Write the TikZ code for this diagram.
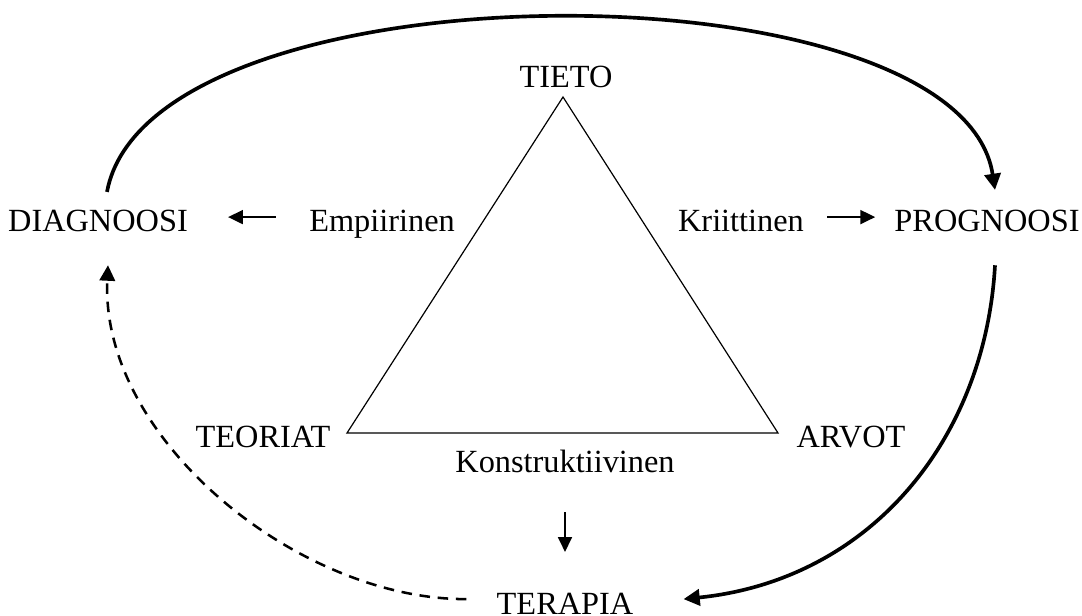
\documentclass[tikz,border=0pt]{standalone}
\usepackage{fontspec}
\setmainfont{Liberation Serif}
\usetikzlibrary{arrows.meta,calc}

\begin{document}
\begin{tikzpicture}[x=0.025cm, y=-0.025cm,
    term/.style={inner sep=0pt, anchor=base, text height=21.2pt, text depth=0pt,
        font=\fontsize{23}{27}\selectfont},
    pointer/.style={line width=1pt, -{Triangle[length=10.5pt,width=10pt]}},
    flow/.style={line width=2.6pt, -{Triangle[length=11.5pt,width=11.5pt]}},
    back/.style={line width=1.8pt, dash pattern=on 7.5pt off 5.5pt,
        -{Triangle[length=11pt,width=11pt]}}]
    \useasboundingbox (0,0) rectangle (1082,616);

    % kolmion kärjet
    \coordinate (T) at (563,97);
    \coordinate (L) at (347,433);
    \coordinate (R) at (778,433);
    \draw[line width=0.85pt] (T) -- (L) -- (R) -- cycle;

    % tekstit
    \node[term] (tieto) at (566,88) {TIETO};
    \node[term] (teor) at (263,447) {TEORIAT};
    \node[term] (arvot) at (851,447) {ARVOT};
    \node[term] (kons) at (565,472) {Konstruktiivinen};
    \node[term] (diag) at (98,232) {DIAGNOOSI};
    \node[term] (emp) at (382,232) {Empiirinen};
    \node[term] (krit) at (741,232) {Kriittinen};
    \node[term] (prog) at (987,232) {PROGNOOSI};
    \node[term] (ter) at (565,614) {TERAPIA};

    % pienet nuolet
    \draw[pointer, shorten <=0.825cm, shorten >=1cm] (emp.west) -- (diag.east);
    \draw[pointer, shorten <=0.575cm, shorten >=0.475cm] (krit.east) -- (prog.west);
    \draw[pointer, shorten <=1cm, shorten >=0.8cm] (kons.south) -- (ter.north);

    % kierto
    \draw[flow] ($(diag.north)+(9,-10)$) .. controls (150,-40) and (960,-40) .. ($(prog.north)+(8,-12)$);
    \draw[flow] ($(prog.south)+(8,33)$) .. controls (985,440) and (870,580) .. ($(ter.east)+(50,0)$);
    \draw[back] ($(ter.west)+(-30,0)$) .. controls (300,600) and (100,440) .. ($(diag.south)+(10,33)$);
\end{tikzpicture}
\end{document}
